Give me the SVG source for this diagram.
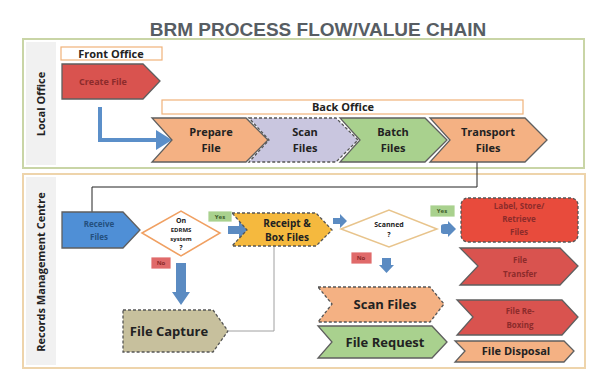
<svg xmlns="http://www.w3.org/2000/svg" width="592" height="379" viewBox="0 0 592 379">
  <style>
    .title { font-family: "Liberation Sans", Arial, sans-serif; font-weight: 700; font-size: 19px; fill: #575d63; }
    .lbl { font-family: "Open Sans", "Liberation Sans", sans-serif; font-weight: 700; fill: #222; text-anchor: middle; }
    .s11 { font-size: 11px; }
    .s10 { font-size: 10px; }
    .s7 { font-size: 7px; }
    .s6 { font-size: 6px; }
    .s13 { font-size: 13px; }
    .lane { font-family: "Open Sans", "Liberation Sans", sans-serif; font-weight: 700; font-size: 11px; fill: #222; text-anchor: middle; }
    .dim { font-family: "Open Sans", "Liberation Sans", sans-serif; font-weight: 700; font-size: 8px; text-anchor: middle; }
    .tiny { font-family: "Open Sans", "Liberation Sans", sans-serif; font-weight: 700; font-size: 6px; text-anchor: middle; }
    .shape { stroke: #5f5f5f; stroke-width: 1.3; }
    .dash { stroke: #555; stroke-width: 1.3; stroke-dasharray: 3 2; }
    .orange { fill: #f4b183; }
    .lav { fill: #c9c6df; }
    .green { fill: #a9d18e; }
    .red { fill: #d9534f; }
    .blue { fill: #4f8fd6; }
    .khaki { fill: #c7c09d; }
    .gold { fill: #f5b93e; }
    .barrow { fill: #5b8bc2; }
    .tag { stroke: #fff; stroke-width: 0.8; }
    .darkred { fill: #8c2b2b; }
    .darkblue { fill: #24507e; }
    .darkgreen { fill: #3c5a2a; }
  </style>
  <defs>
    <marker id="blueHead" markerWidth="5" markerHeight="5" refX="1" refY="2.5" orient="auto" markerUnits="strokeWidth">
      <path d="M0,0 L4,2.5 L0,5 Z" fill="#5b8fc9"/>
    </marker>
  </defs>

  <rect x="0" y="0" width="592" height="379" fill="#ffffff"/>

  <text class="title" x="318" y="36" text-anchor="middle">BRM PROCESS FLOW/VALUE CHAIN</text>

  <!-- swimlanes -->
  <g id="lane-local">
    <rect x="23" y="39" width="561" height="129" fill="#fff" stroke="#c9d5a6" stroke-width="2"/>
    <rect x="26" y="42" width="30" height="123" fill="#f1f1f1"/>
    <text class="lane" transform="translate(45,104) rotate(-90)">Local Office</text>
  </g>
  <g id="lane-rmc">
    <rect x="23" y="174" width="562" height="194" fill="#fff" stroke="#eed4ab" stroke-width="2"/>
    <rect x="26" y="177" width="30" height="188" fill="#f1f1f1"/>
    <text class="lane" transform="translate(45,272) rotate(-90)">Records Management Centre</text>
  </g>

  <!-- section headers -->
  <g id="front-office">
    <rect x="61" y="47" width="101" height="13" fill="#fff" stroke="#f0b27a" stroke-width="1.2"/>
    <text class="lbl s11" x="111" y="58">Front Office</text>
  </g>
  <g id="back-office">
    <rect x="162" y="100" width="361" height="14" fill="#fff" stroke="#f0b27a" stroke-width="1.2"/>
    <text class="lbl s11" x="343" y="111">Back Office</text>
  </g>

  <!-- connectors -->
  <g id="connectors" fill="none">
    <path d="M100,107 V140 H160" stroke="#5b8fc9" stroke-width="4" marker-end="url(#blueHead)"/>
    <polyline points="477,162 477,187 92,187 92,212" stroke="#222" stroke-width="1"/>
    <polyline points="229,331 274,331 274,246" stroke="#a0a0a0" stroke-width="1"/>
  </g>

  <!-- local office nodes -->
  <g id="create-file">
    <path class="shape red" d="M62,64 H143 L160,81 L143,99 H62 Z"/>
    <text class="dim darkred" x="103" y="85" style="font-size:9px">Create File</text>
  </g>
  <g id="transport-files">
    <path class="shape orange" d="M430,118 H525 L547,140 L525,162 H430 L450,140 Z"/>
    <text class="lbl s11" x="488" y="136">Transport</text>
    <text class="lbl s11" x="488" y="152">Files</text>
  </g>
  <g id="batch-files">
    <path class="shape green" d="M340,118 H425 L447,140 L425,162 H340 L360,140 Z"/>
    <text class="lbl s11" x="393" y="136">Batch</text>
    <text class="lbl s11" x="393" y="152">Files</text>
  </g>
  <g id="scan-files-back">
    <path class="dash lav" d="M249,118 H336 L358,140 L336,162 H249 L269,140 Z"/>
    <text class="lbl s11" x="305" y="136">Scan</text>
    <text class="lbl s11" x="305" y="152">Files</text>
  </g>
  <g id="prepare-file">
    <path class="shape orange" d="M152,118 H246 L268,140 L246,162 H152 L172,140 Z"/>
    <text class="lbl s11" x="211" y="136">Prepare</text>
    <text class="lbl s11" x="211" y="152">File</text>
  </g>

  <!-- records management centre nodes -->
  <g id="receive-files">
    <path class="shape blue" d="M62,212 H123 L140,230 L123,248 H62 Z"/>
    <text class="dim darkblue" x="99" y="227">Receive</text>
    <text class="dim darkblue" x="99" y="240">Files</text>
  </g>
  <g id="on-system">
    <path d="M142,233 L181,211 L220,233 L181,256 Z" fill="#fff" stroke="#f0a062" stroke-width="1.5"/>
    <text class="lbl s7" x="181" y="223">On</text>
    <text class="lbl s6" x="181" y="232">EDRMS</text>
    <text class="lbl s6" x="181" y="241">system</text>
    <text class="lbl s7" x="181" y="250">?</text>
  </g>
  <g id="yes-1">
    <rect class="tag green" x="208" y="211" width="24" height="11"/>
    <text class="tiny darkgreen" x="220" y="219">Yes</text>
  </g>
  <g id="no-1">
    <rect class="tag" x="151" y="257" width="20" height="12" fill="#e06a6a"/>
    <text class="tiny darkred" x="161" y="265">No</text>
  </g>
  <g id="arrow-to-receipt">
    <path class="barrow" d="M228,226 H239 V221 L248,230 L239,239 V234 H228 Z"/>
  </g>
  <g id="arrow-to-capture">
    <path class="barrow" d="M176,263 H186 V292 H190 L181,305 L172,292 H176 Z"/>
  </g>
  <g id="file-capture">
    <path class="dash khaki" d="M123,310 H213 L228,331 L213,352 H123 Z"/>
    <text class="lbl s13" x="169" y="336">File Capture</text>
  </g>
  <g id="receipt-box">
    <path class="dash gold" d="M232,213 H316 L332,230 L316,246 H232 L247,230 Z"/>
    <text class="lbl s10" x="287" y="227">Receipt &amp;</text>
    <text class="lbl s10" x="287" y="241">Box Files</text>
  </g>
  <g id="arrow-to-scanned">
    <path class="barrow" d="M333,218 H340 V214 L347,221 L340,228 V224 H333 Z"/>
  </g>
  <g id="scanned">
    <path d="M341,229 L389,210 L437,229 L389,247 Z" fill="#fff" stroke="#e8c48c" stroke-width="1.5"/>
    <text class="lbl s7" x="389" y="227">Scanned</text>
    <text class="lbl s7" x="389" y="237">?</text>
  </g>
  <g id="yes-2">
    <rect class="tag green" x="430" y="205" width="25" height="12"/>
    <text class="tiny darkgreen" x="442" y="213">Yes</text>
  </g>
  <g id="no-2">
    <rect class="tag" x="351" y="252" width="21" height="12" fill="#e06a6a"/>
    <text class="tiny darkred" x="361" y="260">No</text>
  </g>
  <g id="arrow-yes">
    <path class="barrow" d="M441,226 Q441,224 445,224 H448 V221 L456,229 L448,237 V234 H445 Q441,234 441,232 Z"/>
  </g>
  <g id="arrow-no">
    <path class="barrow" d="M382,258 H391 V265 H394 L386.5,273 L379,265 H382 Z"/>
  </g>
  <g id="store-retrieve">
    <rect class="dash" x="461" y="198" width="117" height="44" rx="7" fill="#e84b3c"/>
    <text class="dim darkred" x="519" y="209">Label, Store/</text>
    <text class="dim darkred" x="519" y="222">Retrieve</text>
    <text class="dim darkred" x="519" y="235">Files</text>
  </g>
  <g id="file-transfer">
    <path class="shape red" d="M460,248 H560 L578,266 L560,285 H460 L478,266 Z"/>
    <text class="dim darkred" x="520" y="263">File</text>
    <text class="dim darkred" x="520" y="277">Transfer</text>
  </g>
  <g id="scan-files">
    <path class="dash orange" d="M318,287 H430 L444,304 L430,322 H318 L332,304 Z"/>
    <text class="lbl s13" x="385" y="309">Scan Files</text>
  </g>
  <g id="file-request">
    <path class="shape green" d="M318,326 H432 L447,342 L432,358 H318 L332,342 Z"/>
    <text class="lbl s13" x="385" y="347">File Request</text>
  </g>
  <g id="file-reboxing">
    <path class="shape red" d="M457,300 H562 L578,317 L562,335 H457 L473,317 Z"/>
    <text class="dim darkred" x="520" y="314">File Re-</text>
    <text class="dim darkred" x="520" y="328">Boxing</text>
  </g>
  <g id="file-disposal">
    <path class="shape orange" d="M455,341 H564 L574,351 L564,362 H455 L465,351 Z"/>
    <text class="lbl s11" x="516" y="355">File Disposal</text>
  </g>
</svg>
